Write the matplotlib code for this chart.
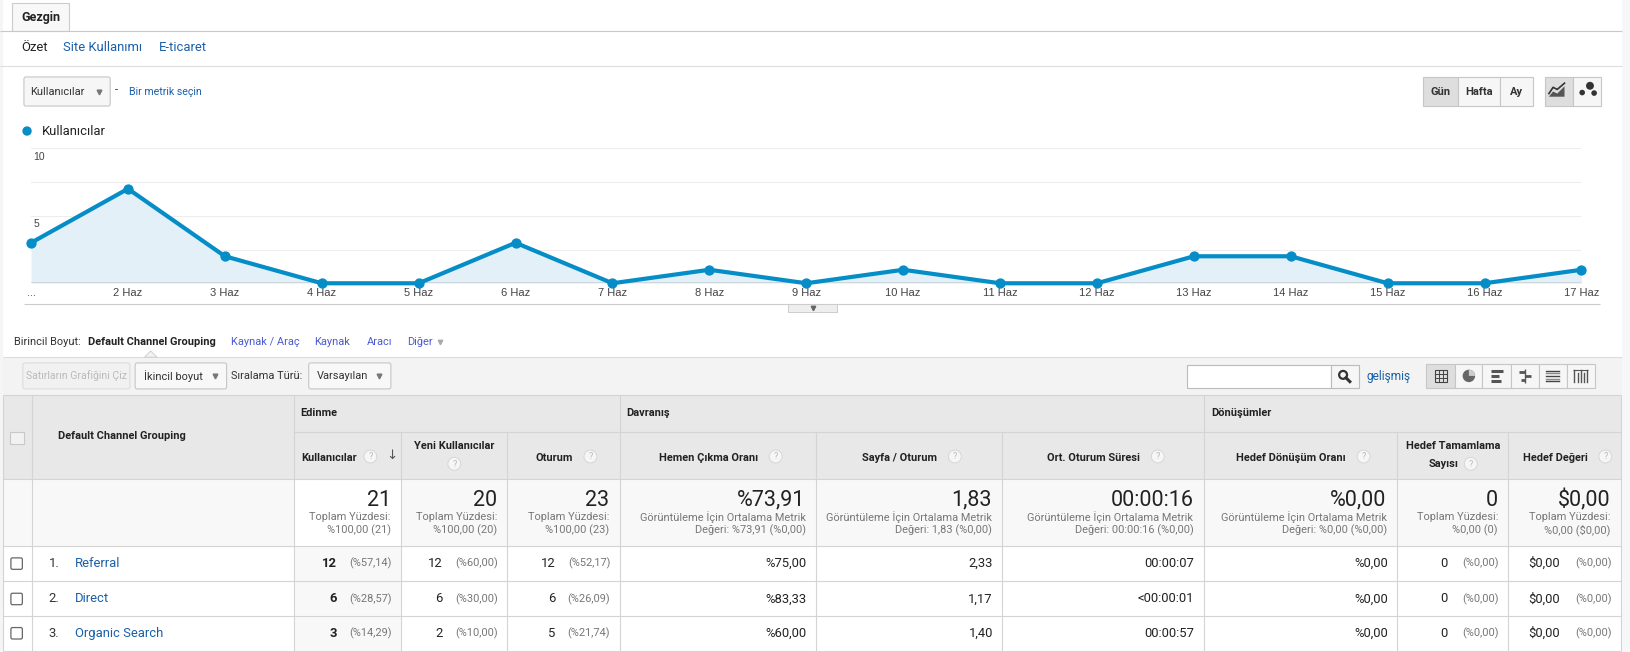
import matplotlib
matplotlib.use("Agg")
import matplotlib.pyplot as plt
from matplotlib.patches import Rectangle, FancyBboxPatch, Circle, Wedge, Polygon

plt.rcParams['font.family'] = ['Roboto', 'DejaVu Sans']

# ---------------- data ----------------
day_labels = ["...", "2 Haz", "3 Haz", "4 Haz", "5 Haz", "6 Haz", "7 Haz", "8 Haz", "9 Haz",
              "10 Haz", "11 Haz", "12 Haz", "13 Haz", "14 Haz", "15 Haz", "16 Haz", "17 Haz"]
daily_users = [3, 7, 2, 0, 0, 3, 0, 1, 0, 1, 0, 0, 2, 2, 0, 0, 1]
y_tick_values = [10, 5]
y_grid_values = [2.5, 5, 7.5, 10]

channels = ["Referral", "Direct", "Organic Search"]
users = ["12", "6", "3"]
users_pct = ["(%57,14)", "(%28,57)", "(%14,29)"]
new_users = ["12", "6", "2"]
new_users_pct = ["(%60,00)", "(%30,00)", "(%10,00)"]
sessions = ["12", "6", "5"]
sessions_pct = ["(%52,17)", "(%26,09)", "(%21,74)"]
bounce_rate = ["%75,00", "%83,33", "%60,00"]
pages_per_session = ["2,33", "1,17", "1,40"]
avg_session_duration = ["00:00:07", "<00:00:01", "00:00:57"]
goal_conversion_rate = ["%0,00", "%0,00", "%0,00"]
goal_completions = ["0", "0", "0"]
goal_completions_pct = ["(%0,00)", "(%0,00)", "(%0,00)"]
goal_value = ["$0,00", "$0,00", "$0,00"]
goal_value_pct = ["(%0,00)", "(%0,00)", "(%0,00)"]

total_values = ["21", "20", "23", "%73,91", "1,83", "00:00:16", "%0,00", "0", "$0,00"]
total_line1 = ["Toplam Yüzdesi:", "Toplam Yüzdesi:", "Toplam Yüzdesi:",
               "Görüntüleme İçin Ortalama Metrik", "Görüntüleme İçin Ortalama Metrik",
               "Görüntüleme İçin Ortalama Metrik", "Görüntüleme İçin Ortalama Metrik",
               "Toplam Yüzdesi:", "Toplam Yüzdesi:"]
total_line2 = ["%100,00 (21)", "%100,00 (20)", "%100,00 (23)", "Değeri: %73,91 (%0,00)",
               "Değeri: 1,83 (%0,00)", "Değeri: 00:00:16 (%0,00)", "Değeri: %0,00 (%0,00)",
               "%0,00 (0)", "%0,00 ($0,00)"]

metric_headers = [["Kullanıcılar"], ["Yeni Kullanıcılar"], ["Oturum"], ["Hemen Çıkma Oranı"],
                  ["Sayfa / Oturum"], ["Ort. Oturum Süresi"], ["Hedef Dönüşüm Oranı"],
                  ["Hedef Tamamlama", "Sayısı"], ["Hedef Değeri"]]
group_headers = ["Edinme", "Davranış", "Dönüşümler"]
dimension_links = ["Kaynak / Araç", "Kaynak", "Aracı", "Diğer"]

# ---------------- canvas ----------------
W, H = 1568.0, 627.0
FIG_W = 1630.0
fig = plt.figure(figsize=(16.3, 6.52), dpi=100)
fig.patch.set_facecolor('white')
ax = fig.add_axes([0, 0, 1, 1])
ax.set_xlim(0, W)
ax.set_ylim(H, 0)
ax.axis('off')
renderer = fig.canvas.get_renderer()

BLUE = '#1a5fa8'
LINK2 = '#4a5bd0'
BORDER = '#d4d4d4'


def rect(x0, y0, x1, y1, fc='none', ec='none', lw=0.8, z=1, r=0):
    if r > 0:
        p = FancyBboxPatch((x0, y0), x1 - x0, y1 - y0,
                           boxstyle=f"round,pad=0,rounding_size={r}",
                           fc=fc, ec=ec, lw=lw, zorder=z)
    else:
        p = Rectangle((x0, y0), x1 - x0, y1 - y0, fc=fc, ec=ec, lw=lw, zorder=z)
    ax.add_patch(p)


def txt(x, y, s, size=8, color='#333', weight='normal', ha='left', va='center', z=6, family=None):
    kw = {}
    if family:
        kw['family'] = family
    return ax.text(x, y, s, fontsize=size, color=color, fontweight=weight,
                   ha=ha, va=va, zorder=z, **kw)


def width(t):
    bb = t.get_window_extent(renderer=renderer)
    return bb.width * W / FIG_W


def hline(y, x0, x1, color=BORDER, lw=0.8, z=3):
    ax.plot([x0, x1], [y, y], color=color, lw=lw, zorder=z, solid_capstyle='butt')


def vline(x, y0, y1, color=BORDER, lw=0.8, z=3):
    ax.plot([x, x], [y0, y1], color=color, lw=lw, zorder=z, solid_capstyle='butt')


def tri(x, y, color='#777', ms=3.4):
    ax.plot([x], [y], marker='v', ms=ms, color=color, mec=color, zorder=7, ls='none')


def qmark(x, y):
    ax.add_patch(Circle((x, y), 6.2, fc='#f6f6f6', ec='#d6d6d6', lw=0.7, zorder=6))
    txt(x, y + 0.3, "?", size=6.5, color='#b8b8b8', ha='center', z=7)


# side strips
rect(1560, 0, W, H, fc='#f6f7f8', z=0)
rect(0, 0, 3, H, fc='#f4f5f6', z=0)

# ---------------- top tabs ----------------
hline(30, 0, 1560, color='#c8c8c8')
rect(12, 3, 66, 30, fc='#f8f8f8', ec='#cccccc', lw=0.8, z=2)
txt(39, 16.5, "Gezgin", size=9.0, color='#222', weight='bold', ha='center')
txt(20, 46, "Özet", size=9.4, color='#222')
txt(61, 46, "Site Kullanımı", size=9.4, color=BLUE)
txt(153, 46, "E-ticaret", size=9.4, color=BLUE)
hline(63, 0, 1560, color='#dddddd')

# metric selector
rect(23, 74, 106, 102, fc='#f6f6f6', ec='#c6c6c6', lw=0.8, z=2, r=2)
txt(29, 88, "Kullanıcılar", size=7.9, color='#333')
tri(95, 88)
txt(110, 86.5, "-", size=8, color='#333')
txt(124, 88, "Bir metrik seçin", size=7.7, color=BLUE)

# Gün / Hafta / Ay
for (x0, x1, lab, pressed) in [(1369, 1403, "Gün", True), (1403, 1443, "Hafta", False), (1443, 1475, "Ay", False)]:
    rect(x0, 74, x1, 102, fc='#dedede' if pressed else '#f6f6f6', ec='#c6c6c6', lw=0.8, z=2)
    txt((x0 + x1) / 2, 88, lab, size=8.0, color='#333', weight='bold', ha='center')
# chart type buttons
rect(1486, 74, 1513, 102, fc='#dedede', ec='#c6c6c6', lw=0.8, z=2)
rect(1513, 74, 1540, 102, fc='#f6f6f6', ec='#c6c6c6', lw=0.8, z=2)
ax.add_patch(Polygon([(1490, 93), (1494, 88), (1498, 90), (1505, 83), (1505, 93)],
                     closed=True, fc='#555', ec='none', zorder=6))
ax.plot([1490, 1494, 1498, 1505], [90, 84, 86, 80], color='#333', lw=1.2, zorder=6)
ax.add_patch(Circle((1529.5, 82.5), 3.8, fc='#333', zorder=6))
ax.add_patch(Circle((1522, 89), 2.7, fc='#333', zorder=6))
ax.add_patch(Circle((1533.5, 89.5), 2.7, fc='#333', zorder=6))

# legend
ax.add_patch(Circle((26, 126), 4.5, fc='#058dc7', ec='none', zorder=6))
txt(40, 126, "Kullanıcılar", size=9.4, color='#222')

# ---------------- line chart ----------------
cx0, cx1, cy_top, cy_bot = 29.9, 1521.3, 142.6, 272.4
cax = fig.add_axes([cx0 / W, 1 - cy_bot / H, (cx1 - cx0) / W, (cy_bot - cy_top) / H])
cax.patch.set_alpha(0)
xs = list(range(len(daily_users)))
cax.set_xlim(0, len(daily_users) - 1)
cax.set_ylim(0, 10)
for g in y_grid_values:
    cax.axhline(g, color='#ededed', lw=0.8, zorder=0)
cax.fill_between(xs, daily_users, 0, color='#e3f0f7', lw=0, zorder=1)
cax.axhline(0, color='#333333', lw=0.9, zorder=2)
cax.plot(xs, daily_users, color='#058dc7', lw=3.0, marker='o', ms=6.4,
         zorder=3, clip_on=False, solid_joinstyle='round')
for s in cax.spines.values():
    s.set_visible(False)
cax.set_yticks([])
cax.set_xticks(xs)
cax.set_xticklabels(day_labels, fontsize=8, color='#444',
                    family=['Liberation Sans', 'DejaVu Sans'])
cax.tick_params(axis='x', length=0, pad=3.5)
for v in y_tick_values:
    cax.annotate(str(v), xy=(0, v), xytext=(1.5, -6), textcoords='offset points',
                 fontsize=7.5, color='#444', ha='left', va='center',
                 family=['Liberation Sans', 'DejaVu Sans'])

hline(292.4, 23, 1539, color='#cccccc')
rect(758, 292.4, 805, 300, fc='#eeeeee', ec='#cccccc', lw=0.7, z=2)
tri(782, 295.8, color='#666', ms=3.2)

# ---------------- dimension row ----------------
txt(13, 329, "Birincil Boyut:", size=7.9, color='#333')
txt(85, 329, "Default Channel Grouping", size=7.9, color='#222', weight='bold')
for lab, x in zip(dimension_links, [222, 302, 353, 392]):
    txt(x, 329, lab, size=7.9, color=LINK2)
tri(423, 329, color='#aaaaaa', ms=3.2)

# toolbar band
rect(3, 343, 1560, 380, fc='#f3f3f3', z=1)
hline(343, 3, 1560, color='#dddddd')
ax.add_patch(Polygon([(139, 343.5), (145, 337.5), (151, 343.5)], closed=True,
                     fc='#f3f3f3', ec='#d0d0d0', lw=0.7, zorder=4))
rect(22, 349, 125, 374, fc='#f1f1f1', ec='#dddddd', lw=0.8, z=2, r=2)
txt(73.5, 361.5, "Satırların Grafiğini Çiz", size=7.6, color='#bbbbbb', ha='center')
rect(130, 349, 218, 374, fc='#f8f8f8', ec='#c6c6c6', lw=0.8, z=2, r=2)
txt(139, 361.5, "İkincil boyut", size=7.9, color='#333')
tri(207, 361.5)
txt(222, 361.5, "Sıralama Türü:", size=7.9, color='#333')
rect(297, 349, 376, 374, fc='#f8f8f8', ec='#c6c6c6', lw=0.8, z=2, r=2)
txt(305, 361.5, "Varsayılan", size=7.9, color='#333')
tri(365, 361.5)

# search
rect(1142, 351, 1280, 373, fc='white', ec='#bbbbbb', lw=0.8, z=2)
rect(1280, 351, 1307, 373, fc='#f6f6f6', ec='#bbbbbb', lw=0.8, z=2)
ax.add_patch(Circle((1292, 360.5), 3.8, fc='none', ec='#333', lw=1.6, zorder=6))
ax.plot([1294.8, 1298.5], [363.3, 367], color='#333', lw=2.2, zorder=6)
txt(1315, 362, "gelişmiş", size=8.6, color=BLUE)

# view buttons
vb = [1372, 1400, 1426, 1454, 1480, 1507, 1534]
for i in range(6):
    rect(vb[i], 350, vb[i + 1], 373, fc='#dedede' if i == 0 else '#f6f6f6',
         ec='#c6c6c6', lw=0.8, z=2)
cy = 361.5
# grid icon
c = (vb[0] + vb[1]) / 2
rect(c - 6, cy - 6, c + 6, cy + 6, fc='none', ec='#444', lw=0.8, z=6)
for d in (-2, 2):
    vline(c + d, cy - 6, cy + 6, color='#444', lw=0.7, z=6)
    hline(cy + d, c - 6, c + 6, color='#444', lw=0.7, z=6)
# pie icon
c = (vb[1] + vb[2]) / 2
ax.add_patch(Circle((c, cy), 6, fc='#666', zorder=6))
ax.add_patch(Wedge((c, cy), 6, 270, 360, fc='#cccccc', zorder=7))
# bar icon
c = (vb[2] + vb[3]) / 2
for yy, ln in [(cy - 4.5, 12), (cy, 8), (cy + 4.5, 10)]:
    ax.plot([c - 6, c - 6 + ln], [yy, yy], color='#555', lw=2.2, zorder=6, solid_capstyle='butt')
# comparison icon
c = (vb[3] + vb[4]) / 2
vline(c, cy - 7, cy + 7, color='#555', lw=1.0, z=6)
ax.plot([c - 6, c], [cy - 3.5, cy - 3.5], color='#555', lw=2, zorder=6, solid_capstyle='butt')
ax.plot([c, c + 6], [cy, cy], color='#555', lw=2, zorder=6, solid_capstyle='butt')
ax.plot([c - 4, c], [cy + 3.5, cy + 3.5], color='#555', lw=2, zorder=6, solid_capstyle='butt')
# pivot icon
c = (vb[4] + vb[5]) / 2
for k, yy in enumerate([cy - 5, cy - 2.5, cy, cy + 2.5, cy + 5]):
    ax.plot([c - 6, c + 6], [yy, yy], color='#888' if k % 2 else '#444', lw=1.0, zorder=6)
# term cloud icon
c = (vb[5] + vb[6]) / 2
for k, dx in enumerate([-6, -3, 0, 3, 6]):
    top = cy - 6 if k in (0, 2, 4) else cy - 3
    ax.plot([c + dx, c + dx], [top, cy + 6], color='#555', lw=1.0, zorder=6)
hline(cy - 6, c - 7, c + 7, color='#555', lw=0.8, z=6)

# ---------------- table ----------------
cols = [3, 31, 283, 386, 488, 596, 785, 964, 1158, 1344, 1451, 1559]
T_TOP, G_BOT, H_BOT, TOT_BOT = 380, 415.5, 461, 525.5
row_bounds = [525.5, 559, 592.5, 626]
row_y = [542, 576, 609]

rect(3, T_TOP, 1559, H_BOT, fc='#e8e8e8', z=1)
rect(3, H_BOT, 1559, TOT_BOT, fc='#f8f8f8', z=1)
rect(cols[2], H_BOT, cols[3], TOT_BOT, fc='white', z=1)
for i in range(3):
    rect(cols[2], row_bounds[i], cols[3], row_bounds[i + 1], fc='#f8f8f8', z=1)

# borders
hline(T_TOP, 3, 1559)
hline(G_BOT, cols[2], 1559)
hline(H_BOT, 3, 1559)
for yb in row_bounds:
    hline(yb, 3, 1559)
for x in [3, 31, 283, 596, 1158, 1559]:
    vline(x, T_TOP, 626)
for x in [386, 488, 785, 964, 1344, 1451]:
    vline(x, G_BOT, 626)

# group headers
for lab, x in zip(group_headers, [289, 602, 1165]):
    txt(x, 397.5, lab, size=7.9, color='#222', weight='bold')

# header checkbox + dimension header
rect(10, 415, 23, 427, fc='#f2f2f2', ec='#c8c8c8', lw=0.8, z=4)
txt(56, 419.5, "Default Channel Grouping", size=7.9, color='#222', weight='bold')

# metric headers
for i, lines in enumerate(metric_headers):
    x0, x1 = cols[i + 2], cols[i + 3]
    cc = (x0 + x1) / 2
    if i == 0:
        t = txt(cc - 18, 440, lines[0], size=7.9, color='#222', weight='bold', ha='center')
        w = width(t)
        qmark(cc - 18 + w / 2 + 13, 439)
        txt(cc - 18 + w / 2 + 34, 438, "↓", size=9.5, color='#555', ha='center',
            family=['DejaVu Sans'])
    elif i == 1:
        txt(cc, 429, lines[0], size=7.9, color='#222', weight='bold', ha='center')
        qmark(cc, 446)
    elif len(lines) == 2:
        txt(cc, 429, lines[0], size=7.9, color='#222', weight='bold', ha='center')
        t = txt(cc - 9, 446.5, lines[1], size=7.9, color='#222', weight='bold', ha='center')
        w = width(t)
        qmark(cc - 9 + w / 2 + 12, 446)
    else:
        t = txt(cc - 9, 440, lines[0], size=7.9, color='#222', weight='bold', ha='center')
        w = width(t)
        qmark(cc - 9 + w / 2 + 17, 439)

# totals row
for i in range(9):
    xr = cols[i + 3] - 10
    txt(xr, 481, total_values[i], size=15.5, color='#222', ha='right')
    txt(xr, 497, total_line1[i], size=7.9, color='#777', ha='right')
    txt(xr, 510, total_line2[i], size=7.9, color='#777', ha='right')


# data rows
def num_pct(col_idx, y, num, pct, bold=False, gap=12):
    xr = cols[col_idx + 1] - 9
    t = txt(xr, y, pct, size=7.9, color='#777', ha='right')
    w = width(t)
    txt(xr - w - gap, y, num, size=9.4, color='#222', ha='right',
        weight='bold' if bold else 'normal')


for r in range(3):
    y = row_y[r]
    rect(10.5, y - 5.5, 21.5, y + 5.5, fc='white', ec='#666', lw=0.9, z=4, r=1.5)
    txt(47, y, f"{r + 1}.", size=9.4, color='#333')
    txt(72, y, channels[r], size=9.4, color=BLUE)
    num_pct(2, y, users[r], users_pct[r], bold=True)
    num_pct(3, y, new_users[r], new_users_pct[r])
    num_pct(4, y, sessions[r], sessions_pct[r])
    for ci, vals in [(5, bounce_rate), (6, pages_per_session), (7, avg_session_duration),
                     (8, goal_conversion_rate)]:
        txt(cols[ci + 1] - 9, y, vals[r], size=9.4, color='#222', ha='right')
    num_pct(9, y, goal_completions[r], goal_completions_pct[r], gap=14)
    num_pct(10, y, goal_value[r], goal_value_pct[r], gap=14)

fig.savefig('out.png', dpi=100, facecolor='white')
